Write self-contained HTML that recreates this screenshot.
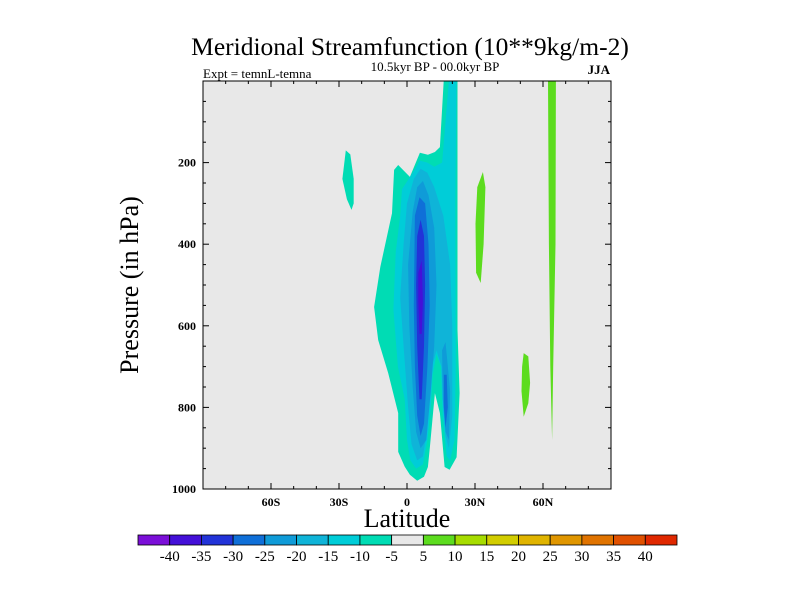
<!DOCTYPE html>
<html><head><meta charset="utf-8"><style>
body{margin:0;background:#fff}
svg{display:block}
text{font-family:"Liberation Serif",serif}
</style></head><body>
<svg id="chart" width="800" height="600" viewBox="0 0 800 600">
<text x="410" y="55" font-size="25.5" text-anchor="middle">Meridional Streamfunction (10**9kg/m-2)</text>
<text x="435" y="71" font-size="13" text-anchor="middle">10.5kyr BP - 00.0kyr BP</text>
<text x="203" y="78" font-size="13">Expt = temnL-temna</text>
<text x="610" y="74" font-size="13" font-weight="bold" text-anchor="end">JJA</text>
<rect x="203" y="81" width="408" height="408" fill="#e8e8e8"/>
<g id="fills"></g>
<rect x="203" y="81" width="408" height="408" fill="none" stroke="#000" stroke-width="1"/>
<g id="ticks"></g>
<text transform="translate(138,285) rotate(-90)" font-size="26" text-anchor="middle">Pressure (in hPa)</text>
<text x="407" y="527" font-size="26" text-anchor="middle">Latitude</text>
<g id="colorbar"></g>
</svg>
<script>
const latLabels=["60S","30S","0","30N","60N"];
const latTicks=[-60,-30,0,30,60];
const presTicks=[200,400,600,800,1000];
const levels=[-40,-35,-30,-25,-20,-15,-10,-5,5,10,15,20,25,30,35,40];
const levelColors=["#7b0fd8","#4410d8","#2233d8","#0f6fd8","#0f9bd8","#0fb4d8","#00cdd8","#00dcb4","#e8e8e8","#5cdc1e","#a6dc00","#d2cd00","#e0b400","#e09600","#e07300","#e05000","#e02800"];
// contour regions: level + polygon of [lat, hPa]
const regionLevels=[-5,-5,-10,-15,-20,-20,-25,-25,-30,-35,5,5,5];
const regionShapes=[
[[-5.7,218],[-3.9,206],[1.3,235],[5.7,176],[9.2,181],[12.3,174],[14.5,162],[16.2,0],[22.3,0],[22.3,610],[23.2,765],[21.9,922],[18.8,953],[16.6,946],[14.5,814],[12.3,765],[10.1,897],[9.2,946],[7.5,970],[4.5,980],[1.3,965],[-1,945],[-3.9,909],[-3.9,814],[-8.3,716],[-12.7,635],[-14.5,554],[-11.8,456],[-6.6,324]],
[[-27,170],[-25,180],[-23.5,240],[-23.5,300],[-24.5,316],[-26.5,290],[-28.5,240]],
[[-2.2,265],[2,230],[5.7,195],[9,200],[12,210],[15.5,200],[18.5,0],[21.8,0],[21.3,300],[21.5,700],[21,880],[19,930],[17.5,920],[15.8,820],[15,700],[13,670],[11.3,720],[10.5,800],[9,880],[7,940],[4,950],[1.5,930],[0,880],[-1,780],[-4,700],[-6,560],[-5,420],[-3,330]],
[[0,300],[3,240],[6,215],[9,225],[12,260],[16,330],[19,450],[20,600],[20,820],[18.5,900],[17,870],[15.8,780],[15.2,700],[13,660],[11,700],[9,850],[7,920],[4.5,930],[2,890],[0.5,800],[-1.5,650],[-3,530],[-1.5,400]],
[[2.5,320],[4.5,260],[7,245],[9.5,280],[12,360],[13,500],[12,650],[10.5,760],[8.5,880],[6,900],[4,860],[2.5,750],[1,600],[0.5,450]],
[[15.5,660],[17,640],[19,760],[18.5,880],[17,860],[15.8,780]],
[[3.5,330],[5.5,285],[8,300],[9.5,400],[10,550],[9,700],[7.5,840],[6,870],[4.5,820],[3.5,700],[3,550]],
[[16.3,720],[17.5,720],[18,800],[17,850],[16.3,800]],
[[4.5,380],[6,340],[7.5,380],[8,500],[7.5,650],[6.5,780],[5.5,780],[4.5,650],[4,500]],
[[5,470],[6.5,440],[7,540],[6.5,620],[5.5,620],[5,540]],
[[33.5,223],[34.6,260],[33.8,400],[32.5,495],[30.5,470],[30.2,350],[31,260]],
[[51.5,667],[53.5,675],[54.3,740],[53.5,790],[51.5,823],[50.5,760],[50.8,700]],
[[62.2,0],[65.7,0],[65.5,400],[64.5,700],[64,880],[63.2,700],[62.6,400]]
];
const NS="http://www.w3.org/2000/svg";
const X0=203,X1=611,Y0=81,Y1=489;
function xs(lat){return X0+(lat+90)/180*(X1-X0);}
function ys(p){return Y0+p/1000*(Y1-Y0);}
function colorFor(v){let i=0;while(i<levels.length&&v>=levels[i])i++;return levelColors[i];}
function mk(tag,attrs,parent){const e=document.createElementNS(NS,tag);for(const k in attrs)e.setAttribute(k,attrs[k]);parent.appendChild(e);return e;}
const fills=document.getElementById('fills');
regionShapes.forEach((poly,i)=>{
  const pts=poly.map(q=>xs(q[0]).toFixed(1)+","+ys(q[1]).toFixed(1)).join(" ");
  const lv=regionLevels[i];
  const e=mk('polygon',{points:pts,fill:colorFor(lv+0.01*Math.sign(lv))},fills);
  
  
});
const tk=document.getElementById('ticks');
for(let lat=-80;lat<=80;lat+=10){
  const major=latTicks.includes(lat);const L=major?6:3;
  mk('line',{x1:xs(lat),x2:xs(lat),y1:Y1,y2:Y1-L,stroke:'#000'},tk);
  mk('line',{x1:xs(lat),x2:xs(lat),y1:Y0,y2:Y0+L,stroke:'#000'},tk);
}
latTicks.forEach((lat,i)=>{
  const t=mk('text',{x:xs(lat),y:506,'font-size':12,'font-weight':'bold','text-anchor':'middle'},tk);
  t.textContent=latLabels[i];
  
  
});
for(let p=50;p<1000;p+=50){
  const major=presTicks.includes(p);const L=major?6:3;
  mk('line',{x1:X0,x2:X0+L,y1:ys(p),y2:ys(p),stroke:'#000'},tk);
  mk('line',{x1:X1,x2:X1-L,y1:ys(p),y2:ys(p),stroke:'#000'},tk);
}
presTicks.forEach(p=>{
  const t=mk('text',{x:196,y:ys(p)+4,'font-size':12,'font-weight':'bold','text-anchor':'end','font-family':'Liberation Sans, sans-serif'},tk);
  t.textContent=p;
  
  
});
const cb=document.getElementById('colorbar');
const CB0=138,CB1=677,n=levelColors.length,w=(CB1-CB0)/n;
levelColors.forEach((c,i)=>{
  const r=mk('rect',{x:CB0+i*w,y:535,width:w,height:10,fill:c,stroke:'#000','stroke-width':0.8},cb);
  
  
});
levels.forEach((v,i)=>{
  const t=mk('text',{x:CB0+(i+1)*w,y:561,'font-size':15,'text-anchor':'middle'},cb);
  t.textContent=v;
  
  
});
</script>
</body></html>
